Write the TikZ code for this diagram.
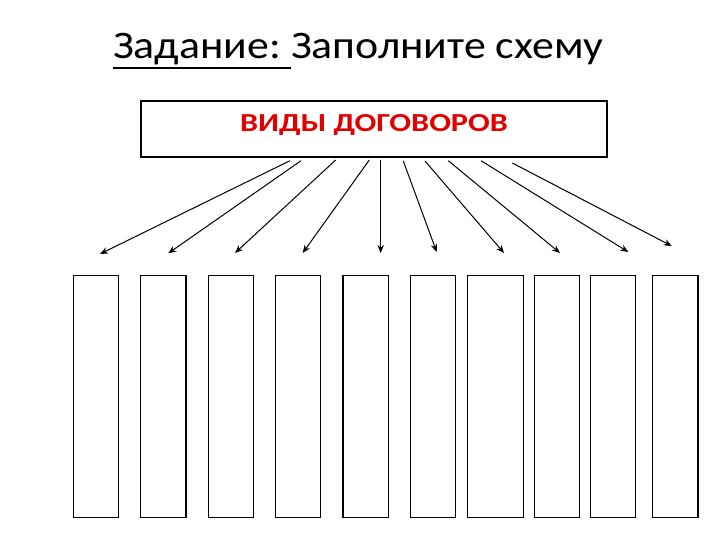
\documentclass[tikz,border=0pt]{standalone}
\usepackage{fontspec}
\setmainfont{Carlito}
\usetikzlibrary{arrows.meta}
\definecolor{hdred}{RGB}{225,0,0}
\newcommand{\thickul}[1]{\setbox0\hbox{#1}\rlap{\rule[-10.6pt]{\wd0}{1.8pt}}\box0}
\tikzset{
  slot/.style={draw=black, line width=1.2pt, fill=white, inner sep=0pt},
  hdr/.style={draw=black, line width=1.2pt, inner sep=0pt},
  arr/.style={draw=black, line width=1pt, -{Stealth[length=8pt,width=6.5pt]}},
}
\begin{document}
\begin{tikzpicture}[x=1pt,y=-1pt]
\useasboundingbox (0,0) rectangle (720,540);
% title
\node[anchor=base west, inner sep=0pt, font=\fontsize{39}{44}\selectfont] (title) at (113,58.3) {\scalebox{1.124}[1]{\thickul{Задание:\ }Заполните схему}};
% header box
\node[hdr, minimum width=466pt, minimum height=56pt] (hdr) at (374,129) {};
\node[anchor=base, inner sep=0pt, text=hdred, font=\fontsize{26}{30}\selectfont\bfseries] (hdrtext) at (374,132) {\scalebox{1.237}[1]{ВИДЫ ДОГОВОРОВ}};
% slots
\foreach \n/\l/\r in {1/73.3/118.7, 2/140.3/186, 3/208.3/253.7, 4/275.7/320.7, 5/343/388.7, 6/410.3/455.3, 7/467.3/523.3, 8/534.3/579.7, 9/590.3/635.7, 10/652.3/698}{
  \node[slot, minimum width={\r-\l}, minimum height=242pt] (s\n) at ({(\l+\r)/2},396.3) {};
}
% arrow start/end points
\foreach \n/\sx/\sy/\ex/\ey in {1/290/160.7/100/254, 2/301/160.7/168.3/253.3, 3/335.7/160/235/253, 4/369.3/160/302.7/253, 5/380.7/160/380.7/253, 6/403.3/161/436.7/252, 7/425/161/504/253, 8/448.3/160.7/560/253, 9/481/160.7/628.3/252, 10/512.3/163/671.7/246}{
  \coordinate (a\n) at (\sx,\sy);
  \coordinate (b\n) at (\ex,\ey);
  \draw[arr] (a\n) -- (b\n);
}
\end{tikzpicture}
\end{document}
